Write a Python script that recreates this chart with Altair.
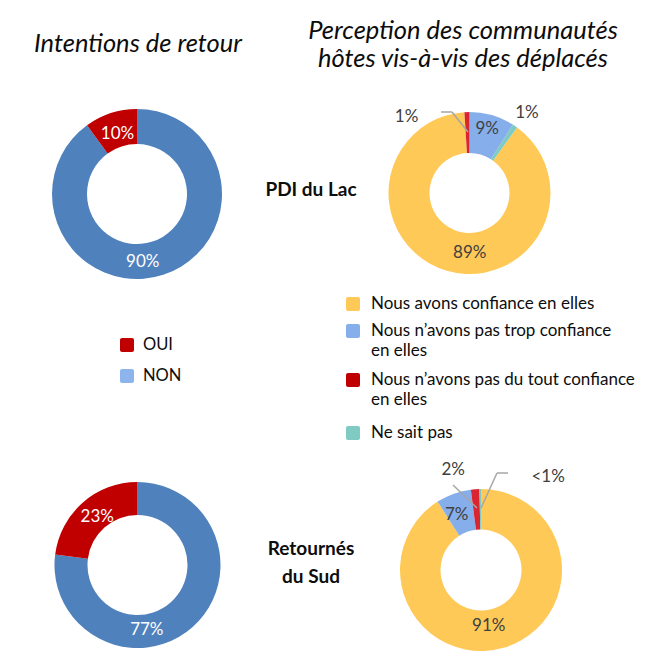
import altair as alt
import pandas as pd

# ---------------- data ----------------
retour_cats = ["NON", "OUI"]
retour_colors = ["#4F81BD", "#C00000"]
retour_order = [1, 2]
retour_pdi = [90, 10]
retour_pdi_labels = ["90%", "10%"]
retour_sud = [77, 23]
retour_sud_labels = ["77%", "23%"]

percep_cats = ["Nous avons confiance en elles",
               "Nous n’avons pas trop confiance en elles",
               "Nous n’avons pas du tout confiance en elles",
               "Ne sait pas"]
percep_colors = ["#FFC957", "#86AEEA", "#DA2530", "#7FCAC3"]
percep_pdi = [89, 9, 1, 1]
percep_pdi_order = [3, 1, 4, 2]
percep_pdi_labels = ["89%", "9%", "1%", "1%"]
percep_sud = [91, 7, 1.7, 0.3]
percep_sud_order = [1, 2, 3, 4]
percep_sud_labels = ["91%", "7%", "2%", "<1%"]

legend_left_labels = ["OUI", "NON"]
legend_left_colors = ["#C00000", "#8DB4EC"]
legend_right_lines = [["Nous avons confiance en elles"],
                      ["Nous n’avons pas trop confiance", "en elles"],
                      ["Nous n’avons pas du tout confiance", "en elles"],
                      ["Ne sait pas"]]
legend_right_colors = ["#FFC957", "#86AEEA", "#C00000", "#7FCAC3"]

title_left = "Intentions de retour"
title_right = ["Perception des communautés", "hôtes vis-à-vis des déplacés"]
row_pdi = ["PDI du Lac"]
row_sud = ["Retournés", "du Sud"]

# ---------------- helpers ----------------
FONT = "Lato"
O = 8  # page margin
THETA = alt.Scale(domain=[0, 100])
DUMMY = pd.DataFrame({"d": [0]})


def frame(vals, cats, colors, order, labels):
    return pd.DataFrame({"cat": cats, "value": vals, "color": colors,
                         "ord": order, "label": labels})


def donut(df, cx, cy, ro, ri):
    return alt.Chart(df).mark_arc(outerRadius=ro, innerRadius=ri).encode(
        theta=alt.Theta("value:Q", stack=True, scale=THETA),
        order=alt.Order("ord:Q"),
        color=alt.Color("color:N", scale=None),
        x=alt.value(cx - O), y=alt.value(cy - O),
    )


def slice_label(df, cat, cx, cy, r, dx, dy, color, size=17):
    return alt.Chart(df).transform_window(
        cum="sum(value)", sort=[alt.SortField("ord")], frame=[None, 0]
    ).transform_calculate(
        mid="datum.cum - datum.value / 2"
    ).transform_filter(
        alt.datum.cat == cat
    ).mark_text(radius=r, dx=dx, dy=dy, color=color, fontSize=size, font=FONT,
                align="center", baseline="middle").encode(
        theta=alt.Theta("mid:Q", scale=THETA),
        text="label:N",
        x=alt.value(cx - O), y=alt.value(cy - O),
    )


def note(text, x, y, size, weight="normal", style="normal", color="#0D0D0D", align="center"):
    return alt.Chart(pd.DataFrame({"t": [text]})).mark_text(
        fontSize=size, fontWeight=weight, fontStyle=style, color=color,
        align=align, baseline="middle", font=FONT
    ).encode(text="t:N", x=alt.value(x - O), y=alt.value(y - O))


def seg(x1, y1, x2, y2, color="#A6A6A6"):
    return alt.Chart(DUMMY).mark_rule(color=color, strokeWidth=1.5).encode(
        x=alt.value(x1 - O), y=alt.value(y1 - O),
        x2=alt.value(x2 - O), y2=alt.value(y2 - O))


def swatch(x, y, color, s=14):
    return alt.Chart(DUMMY).mark_rect(color=color, cornerRadius=2).encode(
        x=alt.value(x - O), x2=alt.value(x + s - O),
        y=alt.value(y - s / 2 - O), y2=alt.value(y + s / 2 - O))


# ---------------- build ----------------
df_rp = frame(retour_pdi, retour_cats, retour_colors, retour_order, retour_pdi_labels)
df_rs = frame(retour_sud, retour_cats, retour_colors, retour_order, retour_sud_labels)
df_pp = frame(percep_pdi, percep_cats, percep_colors, percep_pdi_order, percep_pdi_labels)
df_ps = frame(percep_sud, percep_cats, percep_colors, percep_sud_order, percep_sud_labels)

W = "#FFFFFF"
G = "#404040"
layers = [
    donut(df_rp, 137, 194, 85, 50),
    donut(df_rs, 137.5, 565, 83, 50),
    donut(df_pp, 469.5, 193, 81, 40),
    donut(df_ps, 481, 570, 81, 40.5),
    # retour labels
    slice_label(df_rp, "OUI", 137, 194, 63, 0, 0, W),
    slice_label(df_rp, "NON", 137, 194, 67, -15, 4, W),
    slice_label(df_rs, "OUI", 137.5, 565, 67, 4, 2, W),
    slice_label(df_rs, "NON", 137.5, 565, 67, -35, 15, W),
    # perception PDI labels
    slice_label(df_pp, percep_cats[1], 469.5, 193, 60, 1, -6, G),
    slice_label(df_pp, percep_cats[0], 469.5, 193, 60, 17, 2, G),
    slice_label(df_pp, percep_cats[2], 469.5, 193, 95, -60, 19, G),
    slice_label(df_pp, percep_cats[3], 469.5, 193, 95, 4, -1, G),
    # perception Sud labels
    slice_label(df_ps, percep_cats[0], 481, 570, 60, -9, -2, G),
    slice_label(df_ps, percep_cats[1], 481, 570, 60, -4, 1, G),
    slice_label(df_ps, percep_cats[2], 481, 570, 95, -21, -5, G),
    slice_label(df_ps, percep_cats[3], 481, 570, 95, 68, 2, G),
    # leader lines
    seg(441, 112, 452, 112), seg(452, 112, 468, 132),
    seg(453, 485, 477, 508),
    seg(508, 473, 497, 473), seg(497, 473, 481, 508),
    # titles
    note(title_left, 138, 44, 25.5, style="italic"),
    note(title_right[0], 463, 31, 25.5, style="italic"),
    note(title_right[1], 463, 59, 25.5, style="italic"),
    note(row_pdi[0], 311, 190, 19, weight="bold"),
    note(row_sud[0], 311, 549, 19, weight="bold"),
    note(row_sud[1], 311, 577, 19, weight="bold"),
]

# left legend
for i, (lab, col) in enumerate(zip(legend_left_labels, legend_left_colors)):
    yc = 345 + i * 31
    layers.append(swatch(120, yc, col))
    layers.append(note(lab, 143, yc, 16.5, align="left"))

# right legend
right_rows = [304, 331, 380, 433]
for lines, col, yc in zip(legend_right_lines, legend_right_colors, right_rows):
    layers.append(swatch(346, yc, col))
    for j, ln in enumerate(lines):
        layers.append(note(ln, 371, yc + j * 20, 17, align="left"))

chart = alt.layer(*layers).properties(
    width=629, height=649, padding=0,
    autosize=alt.AutoSizeParams(type="none"),
).configure_view(strokeWidth=0)

chart.save("out.html", embed_options={"renderer": "svg", "actions": False})
